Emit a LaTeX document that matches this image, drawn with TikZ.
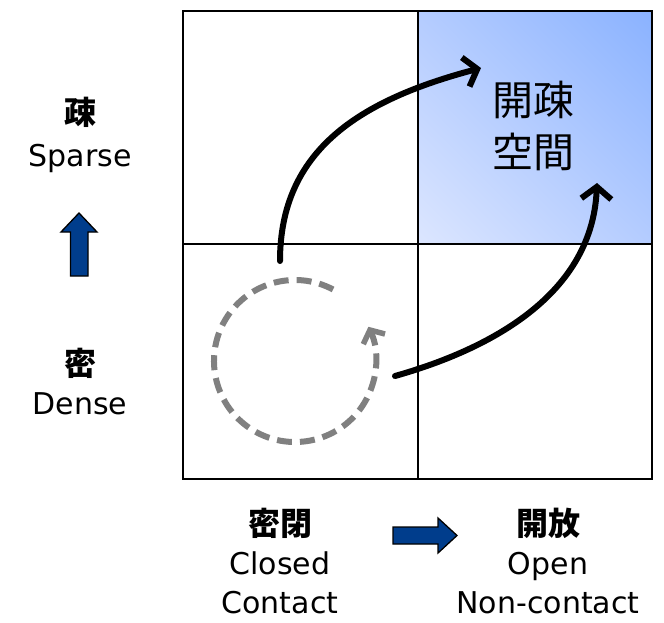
\documentclass[tikz,border=0pt]{standalone}
\usepackage{fontspec}
\setmainfont{DejaVu Sans}
\newfontfamily\cjk{Noto Sans CJK JP}
\usetikzlibrary{arrows.meta,shadings}
\definecolor{blockblue}{RGB}{0,61,140}
\definecolor{dashgray}{RGB}{128,128,128}
\definecolor{shadeTR}{RGB}{138,178,255}
\definecolor{shadeMID}{RGB}{180,204,255}
\definecolor{shadeBL}{RGB}{220,230,255}
\tikzset{
  gridline/.style={line width=2pt, black},
  lbl/.style={inner sep=0pt, anchor=base, font=\fontsize{30}{30}\selectfont},
  kanjilbl/.style={inner sep=0pt, font=\cjk\bfseries\fontsize{32}{32}\selectfont},
  bigkanji/.style={inner sep=0pt, font=\cjk\fontsize{41}{41}\selectfont},
  blockarrow/.style={fill=blockblue, draw=black, line width=1.3pt, line join=miter},
  flowarrow/.style={line width=6pt, black, line cap=round, -{Straight Barb[length=12pt,width=30pt,line width=6pt]}},
  cyclearrow/.style={line width=6pt, dashgray, dash pattern=on 15pt off 8pt, -{Straight Barb[length=10pt,width=24pt,line width=5.5pt]}}
}
\begin{document}
\begin{tikzpicture}[x=1pt,y=-1pt]
\useasboundingbox[fill=white] (0,0) rectangle (664,622);
% shaded cell
\shade[upper right=shadeTR, upper left=shadeMID, lower right=shadeMID, lower left=shadeBL] (418,11) rectangle (652,244);
% grid
\draw[gridline] (183,11) rectangle (652,479);
\draw[gridline] (418,11) -- (418,479);
\draw[gridline] (183,244) -- (652,244);
% central text
\node[bigkanji] (kaiso) at (533,100) {開疎};
\node[bigkanji] (kukan) at (533,152) {空間};
% left labels
\node[kanjilbl] (so) at (80,112) {疎};
\node[lbl] (sparse) at (80,166) {Sparse};
\node[kanjilbl] (mitsu) at (80,363) {密};
\node[lbl] (dense) at (80,414) {Dense};
% bottom labels
\node[kanjilbl] (mippei) at (280,523) {密閉};
\node[lbl] (closed) at (280,574) {Closed};
\node[lbl] (contact) at (280,613) {Contact};
\node[kanjilbl] (kaiho) at (548,523) {開放};
\node[lbl] (open) at (548,574) {Open};
\node[lbl] (noncontact) at (548,613) {Non-contact};
% block arrows
\draw[blockarrow] (70.5,276) -- (70.5,232) -- (61,232) -- (79,213) -- (97,232) -- (88,232) -- (88,276) -- cycle;
\draw[blockarrow] (393,527) -- (438,527) -- (438,518) -- (457,535.5) -- (438,553) -- (438,544) -- (393,544) -- cycle;
% flow arrows
\coordinate (a1s) at (280,261);
\coordinate (a1e) at (481,68);
\coordinate (a2s) at (395,376);
\coordinate (a2e) at (597,183);
\draw[flowarrow] (a1s) .. controls (280,150) and (360,100) .. (a1e);
\draw[flowarrow] (a2s) .. controls (480,352) and (592,300) .. (a2e);
% dashed cycle
\coordinate (cc) at (295,361);
\draw[cyclearrow] ([shift={(-62:81)}]cc) arc[start angle=-62, end angle=-385, radius=81];
\end{tikzpicture}
\end{document}
